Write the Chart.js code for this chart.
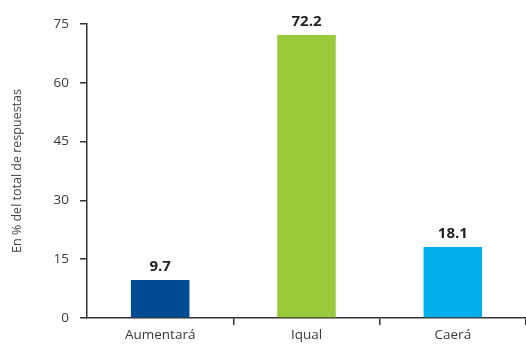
<!DOCTYPE html>
<html><head><meta charset="utf-8">
<script src="https://cdn.jsdelivr.net/npm/chart.js@4.4.0/dist/chart.umd.min.js"></script>
<style>html,body{margin:0;padding:0;background:#fff;}#wrap{width:526px;height:344px;}</style>
</head><body><div id="wrap"><canvas id="c" width="526" height="344"></canvas></div>
<script>
const categories = ["Aumentará", "Iqual", "Caerá"];
const values = [9.7, 72.2, 18.1];
const barColors = ["#004B93", "#9BC93C", "#00AEEA"];
const yTicks = [0, 15, 30, 45, 60, 75];
const yTitle = "En % del total de respuestas";

const FONT = "'Open Sans', 'Noto Sans', sans-serif";

const valueLabels = {
  id: 'valueLabels',
  afterDatasetsDraw(chart) {
    const ctx = chart.ctx;
    const meta = chart.getDatasetMeta(0);
    ctx.save();
    ctx.font = "bold 15px " + FONT;
    ctx.fillStyle = "#222";
    ctx.textAlign = "center";
    ctx.textBaseline = "alphabetic";
    meta.data.forEach((el, i) => {
      ctx.fillText(values[i].toFixed(1), el.x, el.y - 9);
    });
    ctx.restore();
  }
};

new Chart(document.getElementById('c'), {
  type: 'bar',
  data: {
    labels: categories,
    datasets: [{
      data: values,
      backgroundColor: barColors,
      barPercentage: 0.5,
      categoryPercentage: 0.8
    }]
  },
  options: {
    responsive: false,
    animation: false,
    devicePixelRatio: 1,
    layout: { padding: { top: 24, right: 0, left: 10, bottom: 0 } },
    plugins: { legend: { display: false }, tooltip: { enabled: false } },
    scales: {
      x: {
        grid: {
          offset: true,
          drawOnChartArea: false,
          drawTicks: true,
          tickLength: 7,
          color: (c) => (c.index === 0 || c.index === categories.length) ? 'rgba(0,0,0,0)' : '#333',
          lineWidth: 1.5
        },
        border: { display: true, color: '#333', width: 1.5 },
        ticks: { color: '#3a3a3a', font: { family: FONT, size: 13.5 }, padding: 2 },
        afterFit: (s) => { s.height = 26; }
      },
      y: {
        min: 0, max: 75,
        afterBuildTicks: (s) => { s.ticks = yTicks.map(v => ({ value: v })); },
        afterFit: (s) => { s.width = 77; },
        grid: {
          drawOnChartArea: false,
          drawTicks: true,
          tickLength: 7,
          color: '#333',
          lineWidth: 1.5
        },
        border: { display: true, color: '#333', width: 1.5 },
        ticks: { color: '#3a3a3a', font: { family: FONT, size: 13.5 }, padding: 11 },
        title: { display: true, text: yTitle, color: '#444', font: { family: FONT, size: 12.5 }, padding: 0 }
      }
    }
  },
  plugins: [valueLabels]
});
</script></body></html>
